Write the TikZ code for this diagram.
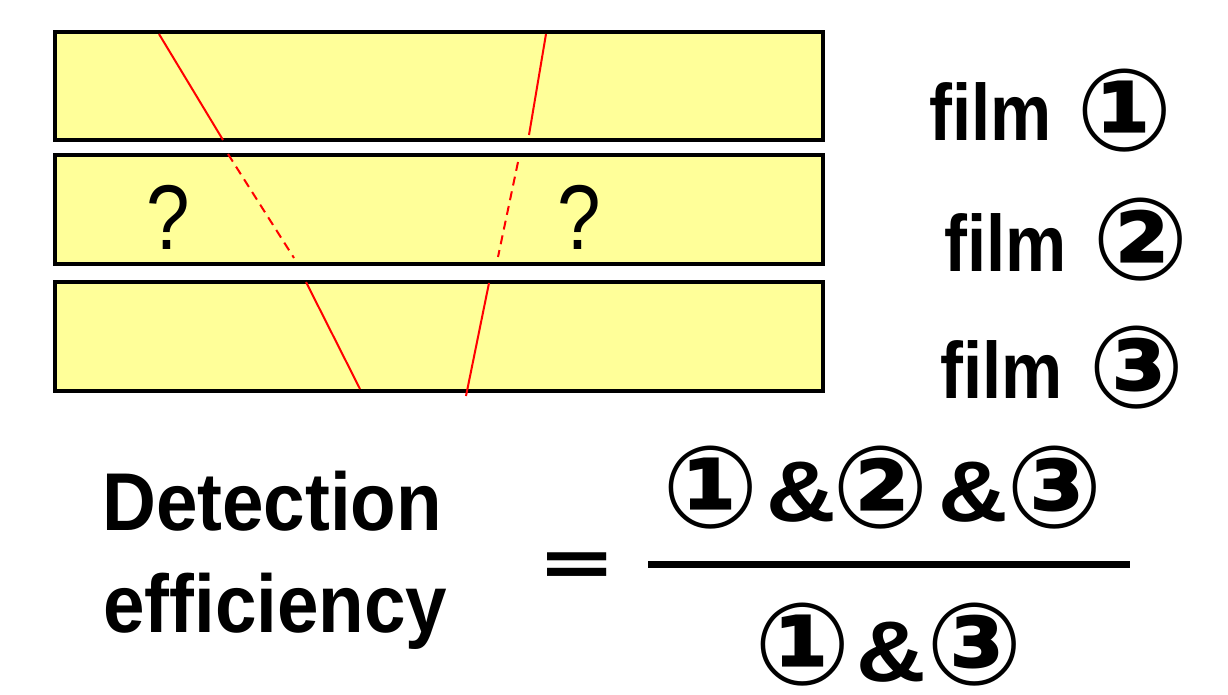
\documentclass[tikz,border=0pt]{standalone}
\usepackage{fontspec}
\setmainfont{Liberation Sans}
\newfontfamily\circfont{DejaVu Sans}
\definecolor{filmyellow}{HTML}{FFFF99}
\definecolor{trackred}{HTML}{FF0000}
\begin{document}
\begin{tikzpicture}[x=1pt,y=-1pt,
  filmbox/.style={draw=black, line width=4pt, fill=filmyellow},
  track/.style={draw=trackred, line width=2pt},
  missing/.style={track, dash pattern=on 9pt off 6pt},
  filmlabel/.style={anchor=base west, inner sep=0pt, font=\bfseries\fontsize{80}{80}\selectfont},
  circnum/.style={inner sep=0pt, font=\circfont\bfseries\fontsize{114}{114}\selectfont},
  bigtext/.style={anchor=base west, inner sep=0pt, font=\bfseries\fontsize{82}{82}\selectfont},
  qmark/.style={inner sep=0pt, font=\fontsize{92}{92}\selectfont},
  fracpart/.style={inner sep=0pt, font=\bfseries\fontsize{86}{86}\selectfont}]
\useasboundingbox (0,0) rectangle (1228,695);
% films
\draw[filmbox] (55,32) rectangle (823,140);
\draw[filmbox] (55,155) rectangle (823,264);
\draw[filmbox] (55,282) rectangle (823,391);
% tracks
\coordinate (a1) at (159,34);  \coordinate (a2) at (223,140);
\coordinate (a3) at (228,154); \coordinate (a4) at (294,258);
\coordinate (a5) at (306,282); \coordinate (a6) at (360,389);
\coordinate (b1) at (546,34);  \coordinate (b2) at (529,135);
\coordinate (b3) at (518,162); \coordinate (b4) at (498,257);
\coordinate (b5) at (489,283); \coordinate (b6) at (466,396);
\draw[track] (a1) -- (a2);
\draw[missing] (a3) -- (a4);
\draw[track] (a5) -- (a6);
\draw[track] (b1) -- (b2);
\draw[missing] (b3) -- (b4);
\draw[track] (b5) -- (b6);
% question marks
\node[qmark] (q1) at (168,217) {\scalebox{0.85}[1]{?}};
\node[qmark] (q2) at (579,217) {\scalebox{0.85}[1]{?}};
% film labels
\node[filmlabel] (f1) at (929,141) {\scalebox{0.86}[1]{film}};
\node[circnum] (c1) at (1125,111) {①};
\node[filmlabel] (f2) at (944,271) {\scalebox{0.86}[1]{film}};
\node[circnum] (c2) at (1141,240) {②};
\node[filmlabel] (f3) at (940,398) {\scalebox{0.86}[1]{film}};
\node[circnum] (c3) at (1137,368) {③};
% formula
\node[bigtext] (det) at (102,530) {\scalebox{0.91}[1]{Detection}};
\node[bigtext] (eff) at (103,632) {\scalebox{0.91}[1]{efficiency}};
\node[inner sep=0pt, font=\circfont\bfseries\fontsize{70}{70}\selectfont] (eq) at (577,569.5) {\scalebox{1.35}[1]{=}};
\draw[line width=7pt] (648,564) -- (1130,564);
\node[circnum] (n1) at (711,488) {①};
\node[fracpart] (n2) at (801,492) {\scalebox{1.12}[1]{\&}};
\node[circnum] (n3) at (881,488) {②};
\node[fracpart] (n4) at (973,492) {\scalebox{1.12}[1]{\&}};
\node[circnum] (n5) at (1055,488) {③};
\node[circnum] (d1) at (803,645) {①};
\node[fracpart] (d2) at (891,652) {\scalebox{1.12}[1]{\&}};
\node[circnum] (d3) at (975,645) {③};
\end{tikzpicture}
\end{document}
